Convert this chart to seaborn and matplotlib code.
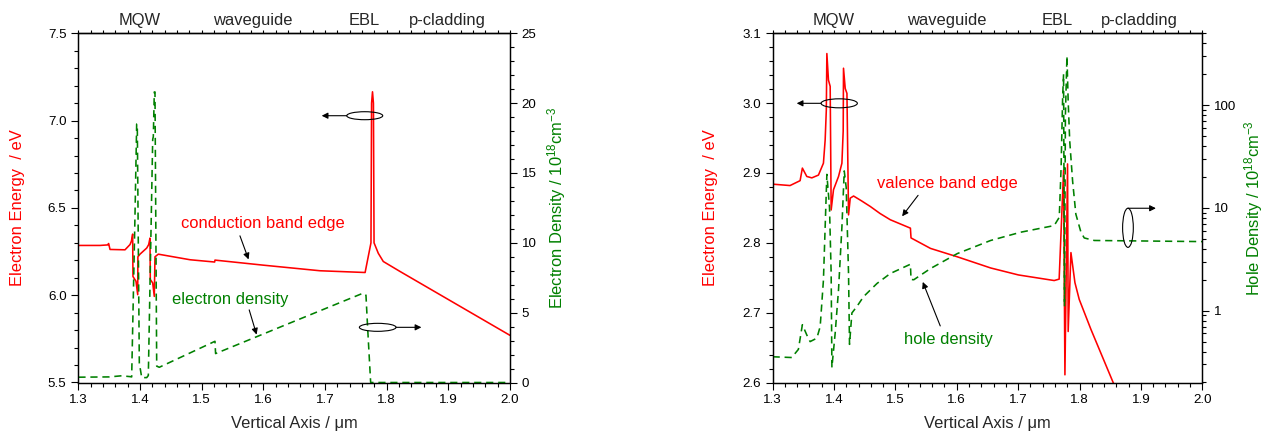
import matplotlib
matplotlib.use("Agg")
import matplotlib.pyplot as plt
import seaborn as sns
from matplotlib import ticker
from matplotlib.patches import Ellipse

# ---------------- data ----------------
# conduction band edge (eV) along the vertical axis (um)
cb_x = [1.300, 1.335, 1.3475, 1.3490, 1.3513, 1.3756, 1.3837, 1.3860, 1.3880, 1.3885,
        1.3934, 1.3962, 1.3965, 1.3999, 1.4108, 1.4140, 1.4161, 1.4166, 1.4205, 1.4231,
        1.4242, 1.4296, 1.4812, 1.5210, 1.5215, 1.6000, 1.6918, 1.7650, 1.7745, 1.7755,
        1.7770, 1.7785, 1.7795, 1.7864, 1.7945, 1.8216, 2.000]
cb_e = [6.285, 6.285, 6.288, 6.296, 6.262, 6.260, 6.290, 6.310, 6.350, 6.107,
        6.080, 6.003, 6.220, 6.235, 6.270, 6.290, 6.327, 6.090, 6.070, 5.993,
        6.220, 6.235, 6.203, 6.190, 6.201, 6.172, 6.140, 6.130, 6.300, 7.100,
        7.165, 7.100, 6.300, 6.240, 6.193, 6.136, 5.770]

# electron density (1e18 cm^-3)
ed_x = [1.300, 1.350, 1.370, 1.384, 1.3864, 1.3918, 1.3945, 1.3955, 1.3988, 1.4027,
        1.4108, 1.4134, 1.4205, 1.4215, 1.4231, 1.4242, 1.4270, 1.4312, 1.5215, 1.5225,
        1.6400, 1.7620, 1.7664, 1.7690, 1.7740, 2.000]
ed_n = [0.38, 0.40, 0.48, 0.42, 0.40, 12.0, 18.5, 18.5, 1.40, 0.35,
        0.35, 0.50, 17.4, 17.6, 20.8, 20.8, 1.17, 1.09, 2.95, 2.07,
        4.20, 6.40, 6.25, 4.00, 0.00, 0.00]

# valence band edge (eV)
vb_x = [1.300, 1.3284, 1.3448, 1.3485, 1.3557, 1.3639, 1.3747, 1.3828, 1.3856, 1.3875,
        1.3884, 1.3910, 1.3938, 1.3954, 1.3992, 1.4074, 1.4129, 1.4150, 1.4155, 1.4183,
        1.4211, 1.4237, 1.4265, 1.4319, 1.4450, 1.4592, 1.4750, 1.4918, 1.5245, 1.5255,
        1.5572, 1.6008, 1.6552, 1.7005, 1.7587, 1.7668, 1.7740, 1.7762, 1.7805, 1.7815,
        1.7860, 1.7925, 1.7995, 1.8186, 1.8600]
vb_e = [2.884, 2.882, 2.889, 2.907, 2.895, 2.893, 2.897, 2.914, 2.947, 2.990,
        3.071, 3.033, 3.024, 2.847, 2.876, 2.895, 2.914, 2.960, 3.050, 3.021,
        3.014, 2.840, 2.864, 2.867, 2.860, 2.852, 2.842, 2.833, 2.821, 2.807,
        2.792, 2.780, 2.764, 2.754, 2.746, 2.748, 2.904, 2.611, 2.913, 2.673,
        2.786, 2.743, 2.719, 2.676, 2.589]

# hole density (1e18 cm^-3)
hd_x = [1.300, 1.3312, 1.3420, 1.3485, 1.3557, 1.3611, 1.3721, 1.3775, 1.3828, 1.3884,
        1.3927, 1.3954, 1.3966, 1.4020, 1.4074, 1.4129, 1.4167, 1.4199, 1.4237, 1.4253,
        1.4292, 1.4374, 1.4482, 1.4701, 1.4918, 1.5245, 1.5255, 1.5300, 1.5572, 1.6008,
        1.6552, 1.7042, 1.7587, 1.7670, 1.7700, 1.7725, 1.7740, 1.7755, 1.7770, 1.7795,
        1.7815, 1.7840, 1.7887, 1.7940, 1.8023, 1.8077, 1.8240, 2.000]
hd_p = [0.356, 0.350, 0.42, 0.73, 0.58, 0.50, 0.54, 0.70, 1.98, 21.2,
        10.1, 2.3, 0.28, 0.61, 1.6, 6.5, 22.9, 15.8, 2.3, 0.47,
        0.95, 1.10, 1.37, 1.84, 2.30, 2.83, 2.01, 2.00, 2.57, 3.59,
        4.82, 5.80, 6.73, 8.1, 25.0, 120.0, 200.0, 1.1, 80.0, 300.0,
        110.0, 45.0, 18.3, 8.7, 5.8, 5.1, 4.82, 4.7]

regions = ["MQW", "waveguide", "EBL", "p-cladding"]
region_x = [1.400, 1.583, 1.764, 1.898]

# ---------------- style ----------------
RED = "#ff0000"
GREEN = "#008000"
sns.set_style("ticks")
plt.rcParams.update({
    "font.family": ["Liberation Sans", "DejaVu Sans"],
    "mathtext.fontset": "custom",
    "mathtext.rm": "Liberation Sans",
    "mathtext.it": "Liberation Sans:italic",
    "font.size": 9.5,
    "axes.linewidth": 0.9,
    "axes.edgecolor": "black",
    "xtick.direction": "out",
    "ytick.direction": "out",
    "xtick.major.size": 5, "ytick.major.size": 5,
    "xtick.minor.size": 3, "ytick.minor.size": 3,
    "xtick.major.width": 0.8, "ytick.major.width": 0.8,
    "xtick.minor.width": 0.8, "ytick.minor.width": 0.8,
    "xtick.color": "black", "ytick.color": "black",
    "xtick.labelsize": 9.6, "ytick.labelsize": 9.6,
})
LAB = 11.9
DASH = (0, (4.5, 3))

W, H = 1269, 438
fig = plt.figure(figsize=(W / 100, H / 100), dpi=100)
bottom = (H - 382.5) / H
height = 349.2 / H
axL = fig.add_axes([78.4 / W, bottom, 431.6 / W, height])
axR = fig.add_axes([772.6 / W, bottom, 429.7 / W, height])


def common_x(ax):
    ax.set_xlim(1.3, 2.0)
    ax.xaxis.set_major_locator(ticker.MultipleLocator(0.1))
    ax.xaxis.set_minor_locator(ticker.MultipleLocator(0.02))
    ax.xaxis.set_major_formatter(ticker.FormatStrFormatter("%.1f"))
    ax.set_xlabel("Vertical Axis / μm", fontsize=LAB)
    ax.xaxis.set_label_coords(0.5, -0.095)
    top = ax.secondary_xaxis("top")
    top.xaxis.set_major_locator(ticker.MultipleLocator(0.1))
    top.xaxis.set_minor_locator(ticker.MultipleLocator(0.02))
    top.tick_params(which="both", length=2.5, labeltop=False)
    for name, xv in zip(regions, region_x):
        ax.text(xv, 1.038, name, transform=ax.get_xaxis_transform(),
                ha="center", va="center", fontsize=LAB)


def arrow(ax, tail, tip, coords="data"):
    ax.annotate("", xy=tip, xytext=tail, xycoords=coords, textcoords=coords,
                arrowprops=dict(arrowstyle="-|>", color="black", lw=0.8,
                                mutation_scale=9, shrinkA=0, shrinkB=0))


def ellipse(ax, c, w, h):
    ax.add_patch(Ellipse(c, w, h, transform=ax.transAxes, fill=False,
                         ec="black", lw=0.8, zorder=5))


# ---------------- left panel: conduction band / electron density ----------------
sns.lineplot(x=cb_x, y=cb_e, ax=axL, color=RED, lw=1.15,
             estimator=None, sort=False)
axL.set_ylim(5.5, 7.5)
axL.yaxis.set_major_locator(ticker.MultipleLocator(0.5))
axL.yaxis.set_minor_locator(ticker.MultipleLocator(0.1))
axL.yaxis.set_major_formatter(ticker.FormatStrFormatter("%.1f"))
axL.set_ylabel("Electron Energy  / eV", color=RED, fontsize=LAB)
axL.yaxis.set_label_coords(-0.124, 0.5)
common_x(axL)

axL2 = axL.twinx()
sns.lineplot(x=ed_x, y=ed_n, ax=axL2, color=GREEN, lw=1.15, ls=DASH,
             estimator=None, sort=False)
axL2.set_ylim(0, 25)
axL2.yaxis.set_major_locator(ticker.MultipleLocator(5))
axL2.yaxis.set_minor_locator(ticker.MultipleLocator(1))
axL2.set_ylabel("Electron Density / 10$^{18}$cm$^{-3}$", color=GREEN, fontsize=LAB)
axL2.yaxis.set_label_coords(1.081, 0.5)
axL.set_xlim(1.3, 2.0)

axL.text(1.600, 6.41, "conduction band edge", color=RED, fontsize=LAB,
         ha="center", va="center")
arrow(axL, (1.562, 6.34), (1.576, 6.205))
axL2.text(1.546, 5.93, "electron density", color=GREEN, fontsize=LAB,
          ha="center", va="center")
arrow(axL2, (1.577, 5.2), (1.589, 3.43))

ellipse(axL2, (0.6634, 0.764), 0.0834, 0.0229)
arrow(axL2, (0.6217, 0.764), (0.5637, 0.764), coords="axes fraction")
ellipse(axL2, (0.6935, 0.158), 0.085, 0.0229)
arrow(axL2, (0.736, 0.158), (0.7947, 0.158), coords="axes fraction")

# ---------------- right panel: valence band / hole density ----------------
sns.lineplot(x=vb_x, y=vb_e, ax=axR, color=RED, lw=1.15,
             estimator=None, sort=False)
axR.set_ylim(2.6, 3.1)
axR.yaxis.set_major_locator(ticker.MultipleLocator(0.1))
axR.yaxis.set_minor_locator(ticker.MultipleLocator(0.02))
axR.yaxis.set_major_formatter(ticker.FormatStrFormatter("%.1f"))
axR.set_ylabel("Electron Energy  / eV", color=RED, fontsize=LAB)
axR.yaxis.set_label_coords(-0.127, 0.5)
common_x(axR)

axR2 = axR.twinx()
sns.lineplot(x=hd_x, y=hd_p, ax=axR2, color=GREEN, lw=1.15, ls=DASH,
             estimator=None, sort=False)
axR2.set_yscale("log")
axR2.set_ylim(0.2, 500)
axR2.yaxis.set_major_locator(ticker.LogLocator(base=10))
axR2.yaxis.set_minor_locator(ticker.LogLocator(base=10, subs=range(2, 10)))
axR2.yaxis.set_major_formatter(ticker.FuncFormatter(lambda v, _: f"{v:g}"))
axR2.yaxis.set_minor_formatter(ticker.NullFormatter())
axR2.set_ylabel("Hole Density / 10$^{18}$cm$^{-3}$", color=GREEN, fontsize=LAB)
axR2.yaxis.set_label_coords(1.092, 0.5)
axR.set_xlim(1.3, 2.0)

axR.text(1.585, 2.885, "valence band edge", color=RED, fontsize=LAB,
         ha="center", va="center")
arrow(axR, (1.537, 2.868), (1.511, 2.838))
axR.text(1.5866, 2.661, "hole density", color=GREEN, fontsize=LAB,
         ha="center", va="center")
arrow(axR, (1.5731, 2.681), (1.5446, 2.744))

ellipse(axR2, (0.155, 0.7995), 0.0845, 0.0258)
arrow(axR2, (0.1128, 0.7995), (0.0561, 0.7995), coords="axes fraction")
ellipse(axR2, (0.827, 0.443), 0.0249, 0.112)
arrow(axR2, (0.827, 0.499), (0.892, 0.499), coords="axes fraction")

fig.savefig("out.png", dpi=100)
